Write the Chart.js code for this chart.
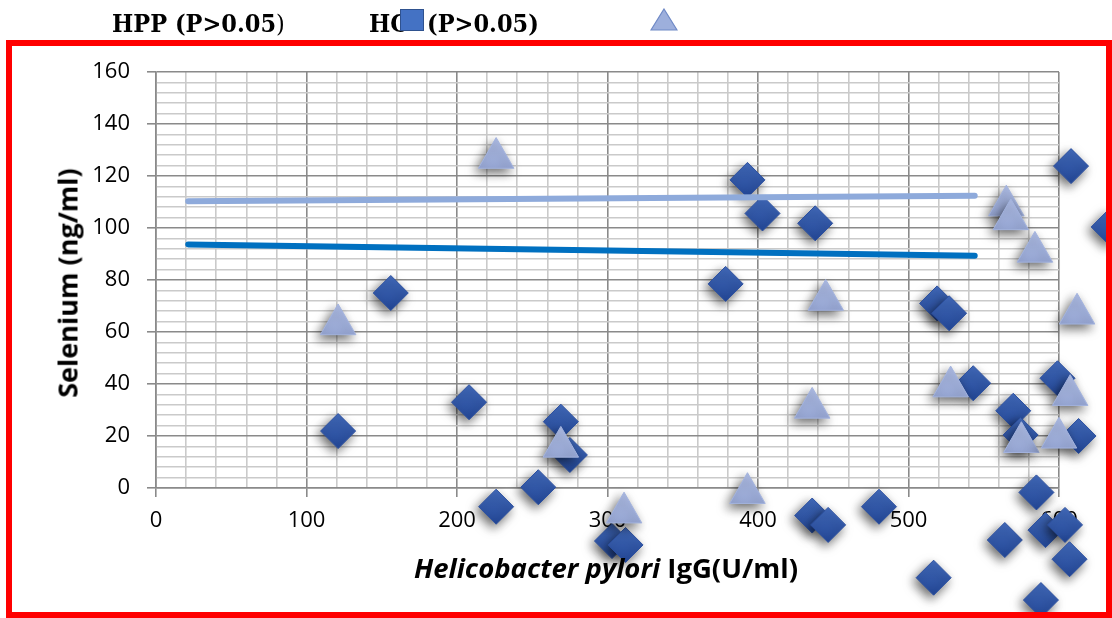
<!DOCTYPE html>
<html lang="en">
<head>
<meta charset="UTF-8">
<title>Selenium vs Helicobacter pylori IgG</title>
<script src="https://cdn.jsdelivr.net/npm/chart.js@4.4.1/dist/chart.umd.min.js"></script>
<style>
  html, body { margin: 0; padding: 0; background: #fff; }
  #wrap { position: relative; width: 1112px; height: 618px; overflow: hidden; }
  #chart { position: absolute; left: 0; top: 0; }
  .frame { position: absolute; left: 6px; top: 40px; width: 1106px; height: 578px;
           border: 6px solid #ff0000; box-sizing: border-box; pointer-events: none; z-index: 3; }
  .leg { position: absolute; font-family: "DejaVu Serif Condensed", "DejaVu Serif", serif; font-stretch: condensed;
         font-weight: bold; font-size: 25px; line-height: 25px; color: #000; white-space: nowrap; z-index: 2; }
  .leg .thin { font-weight: normal; }
  .sq { position: absolute; left: 400px; top: 9px; width: 24px; height: 22px; background: #4472c4;
        border: 1.5px solid #2f528f; box-sizing: border-box; z-index: 2; }
  .tri { position: absolute; left: 650px; top: 8px; z-index: 2; }
  .ytitle { position: absolute; left: 67px; top: 283px; transform: translate(-50%, -50%) rotate(-90deg);
            font-family: "Open Sans", sans-serif; font-weight: bold; font-size: 27px; white-space: nowrap; color: #000; }
  .xtitle { position: absolute; left: 606px; top: 567px; transform: translate(-50%, -50%);
            font-family: "Open Sans", sans-serif; font-weight: bold; font-size: 27.5px; white-space: nowrap; color: #000; }
</style>
</head>
<body>
<div id="wrap">
  <canvas id="chart" width="1112" height="618"></canvas>
  <div class="leg" style="left:112px; top:11px;">HPP (P&gt;0.05<span class="thin">)</span></div>
  <div class="leg" style="left:369px; top:11px;">HC</div>
  <div class="sq"></div>
  <div class="leg" style="left:427px; top:11px;">(P&gt;0.05)</div>
  <svg class="tri" width="28" height="24" viewBox="0 0 28 24"><polygon points="14,1 27,22 1,22" fill="#9dafdc" stroke="#6f89c6" stroke-width="1.2"/></svg>
  <div class="ytitle">Selenium (ng/ml)</div>
  <div class="xtitle"><i>Helicobacter pylori</i> IgG(U/ml)</div>
  <div class="frame"></div>
</div>
<script>
// HC (diamonds)
const hcX = [121, 156, 208, 226, 254, 269, 275, 303, 312, 393, 403, 438, 378.5, 608, 633, 519, 527,
             543, 599, 569.6, 574.5, 613, 585, 436, 446.6, 480.4, 564, 591, 604, 607, 516.7, 588];
const hcY = [21.9, 75, 33, -7.2, 0.3, 25.5, 12.7, -20.4, -21.9, 118.5, 105.6, 101.8, 78.5, 123.8, 100.4, 71, 67.2,
             40.3, 42.2, 29.7, 20.4, 20, -1.7, -10.6, -14.2, -7.2, -20, -16.2, -14.2, -27.4, -34.5, -43.1];
// HPP (triangles)
const hppX = [121, 226, 269, 311, 393, 436, 445, 528, 565, 568, 584, 612, 607.4, 575, 600];
const hppY = [62.9, 126.9, 15.8, -9.5, -2.0, 30.8, 72.3, 39, 108.6, 103.3, 90.8, 67, 35.7, 17.6, 19.3];
// linear trend lines
const trendX = [21.4, 544];
const hcTrendY = [93.7, 89.3];
const hppTrendY = [110.3, 112.4];
// axis labels
const xTickLabels = [0, 100, 200, 300, 400, 500, 600];
const yTickLabels = [0, 20, 40, 60, 80, 100, 120, 140, 160];

function pts(xs, ys) {
  return xs.map(function (x, i) { return {x: x, y: ys[i]}; });
}

const majorGrid = '#8a8a8a';
const minorGrid = '#cacaca';

// vertical gradient per marker
function markerFill(top, bottom, r) {
  return function (c) {
    if (c.type !== 'data' || !c.parsed || !c.chart.scales.y) return bottom;
    const py = c.chart.scales.y.getPixelForValue(c.parsed.y);
    if (!isFinite(py)) return bottom;
    const g = c.chart.ctx.createLinearGradient(0, py - r, 0, py + r);
    g.addColorStop(0, top);
    g.addColorStop(1, bottom);
    return g;
  };
}

// markers lie outside the plot area too, so let them draw on the whole canvas, with a shadow
const markerPlugin = {
  id: 'markerPlugin',
  beforeDatasetDraw(chart, args) {
    const ds = chart.data.datasets[args.index];
    if (!ds.shadow) return;
    const ctx = chart.ctx;
    ctx.save();
    ctx.shadowColor = 'rgba(0,0,0,0.6)';
    ctx.shadowBlur = 11;
    ctx.shadowOffsetX = -3;
    ctx.shadowOffsetY = 4;
    chart._realArea = chart.chartArea;
    chart.chartArea = {left: 0, top: 0, right: chart.width, bottom: chart.height,
                       width: chart.width, height: chart.height};
  },
  afterDatasetDraw(chart, args) {
    const ds = chart.data.datasets[args.index];
    if (!ds.shadow) return;
    chart.chartArea = chart._realArea;
    chart.ctx.restore();
  }
};

new Chart(document.getElementById('chart'), {
  type: 'scatter',
  data: {
    datasets: [
      {
        label: 'HC trend',
        data: pts(trendX, hcTrendY),
        showLine: true,
        borderColor: '#0070c0',
        borderWidth: 6,
        borderCapStyle: 'round',
        pointRadius: 0,
        order: 0
      },
      {
        label: 'HPP trend',
        data: pts(trendX, hppTrendY),
        showLine: true,
        borderColor: '#8eaadb',
        borderWidth: 6,
        borderCapStyle: 'round',
        pointRadius: 0,
        order: 0
      },
      {
        label: 'HPP',
        data: pts(hppX, hppY),
        pointStyle: 'triangle',
        pointRadius: 20.5,
        backgroundColor: markerFill('#adbbe3', '#93a4d4', 20),
        borderColor: '#a3b3de',
        borderWidth: 1,
        clip: false,
        shadow: true,
        order: 1
      },
      {
        label: 'HC',
        data: pts(hcX, hcY),
        pointStyle: 'rectRot',
        pointRadius: 17.5,
        backgroundColor: markerFill('#4169b9', '#244898', 17),
        borderColor: '#2c50a0',
        borderWidth: 1,
        clip: false,
        shadow: true,
        order: 2
      }
    ]
  },
  options: {
    responsive: false,
    animation: false,
    events: [],
    layout: { padding: {left: 10, right: 53, top: 72, bottom: 70} },
    plugins: { legend: {display: false}, tooltip: {enabled: false} },
    scales: {
      x: {
        type: 'linear',
        min: 0,
        max: 600,
        afterFit: function (scale) { scale.height = 60; },
        ticks: {
          stepSize: 20,
          autoSkip: false,
          maxRotation: 0,
          padding: 11,
          color: '#000',
          font: {family: 'Open Sans', size: 22},
          callback: function (v) { return xTickLabels.indexOf(v) >= 0 ? String(v) : ''; }
        },
        grid: {
          color: function (c) { return c.tick && c.tick.value % 100 === 0 ? majorGrid : minorGrid; },
          tickColor: function (c) { return c.tick && c.tick.value % 100 === 0 ? majorGrid : 'rgba(0,0,0,0)'; },
          lineWidth: 1.6,
          tickLength: 9
        },
        border: {color: majorGrid, width: 1.6}
      },
      y: {
        type: 'linear',
        min: 0,
        max: 160,
        afterFit: function (scale) { scale.width = 146; },
        ticks: {
          stepSize: 4,
          autoSkip: false,
          padding: 17,
          color: '#000',
          font: {family: 'Open Sans', size: 22},
          callback: function (v) { return yTickLabels.indexOf(v) >= 0 ? String(v) : ''; }
        },
        grid: {
          color: function (c) { return c.tick && c.tick.value % 20 === 0 ? majorGrid : minorGrid; },
          tickColor: function (c) { return c.tick && c.tick.value % 20 === 0 ? majorGrid : 'rgba(0,0,0,0)'; },
          lineWidth: 1.6,
          tickLength: 9
        },
        border: {color: majorGrid, width: 1.6}
      }
    }
  },
  plugins: [markerPlugin]
});
</script>
</body>
</html>
